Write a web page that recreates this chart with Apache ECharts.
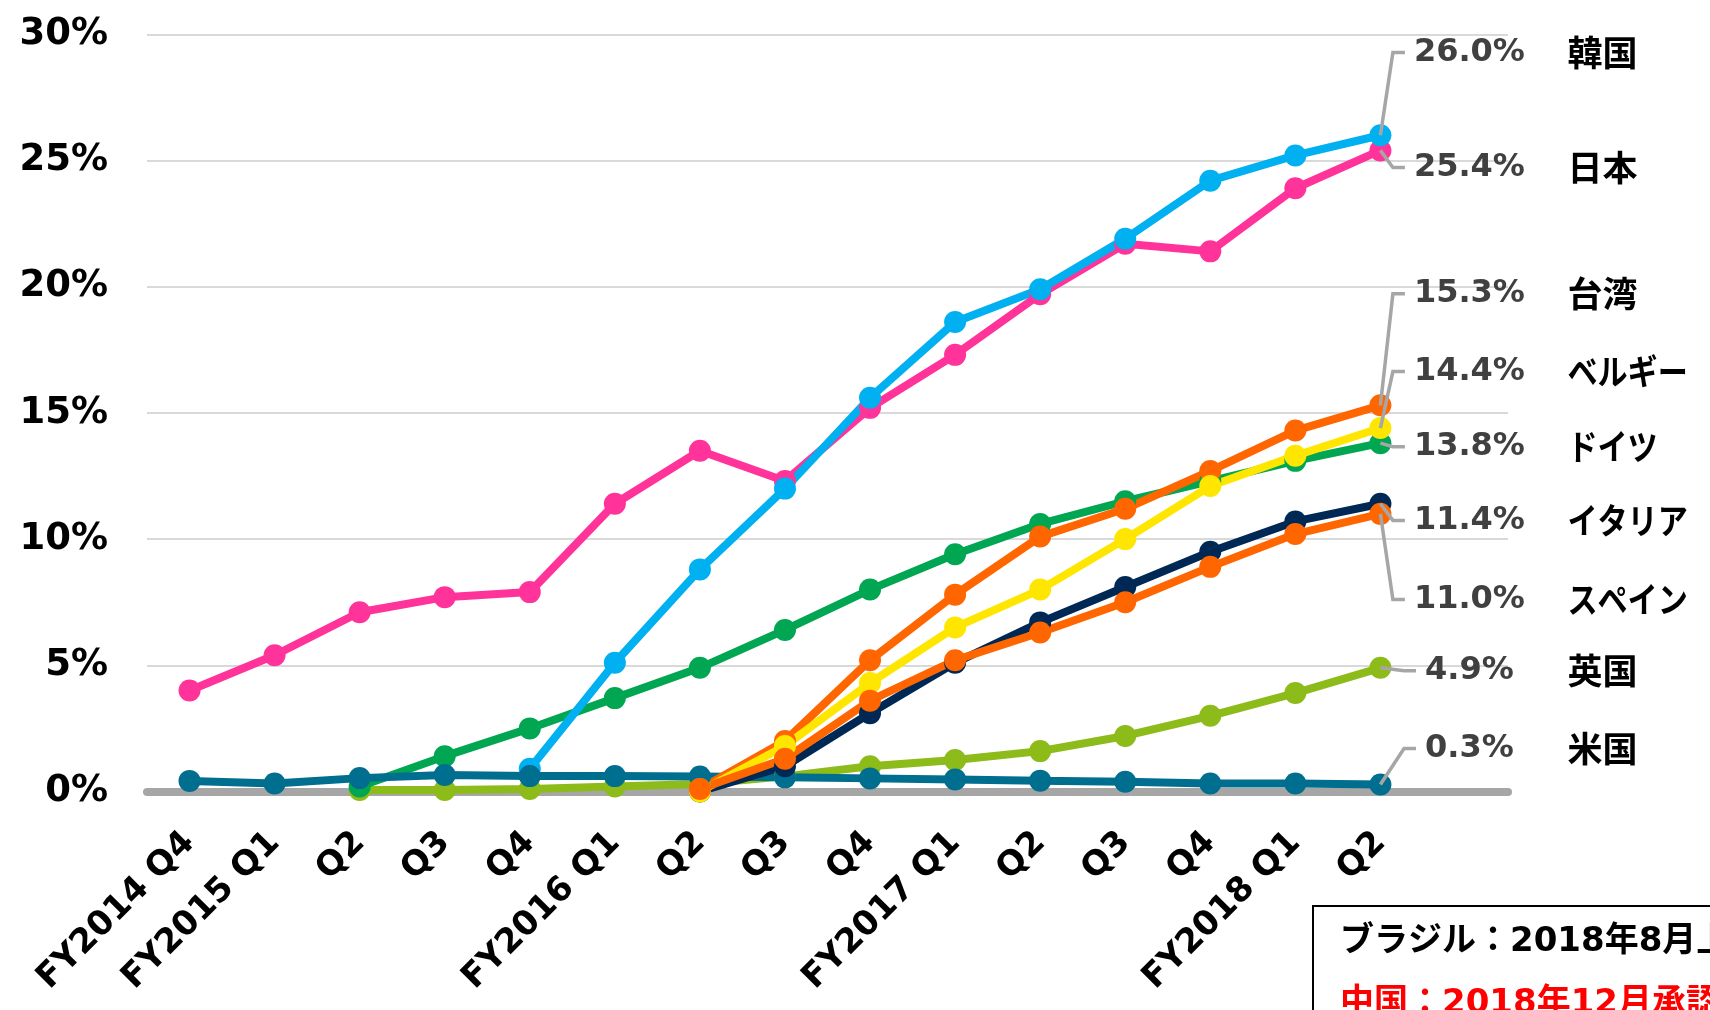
<!DOCTYPE html>
<html>
<head>
<meta charset="utf-8">
<script src="https://cdn.jsdelivr.net/npm/echarts@6/dist/echarts.min.js"></script>
<style>
html,body{margin:0;padding:0;background:#fff;}
#chart{width:1710px;height:1010px;}
</style>
</head>
<body>
<div id="chart"></div>
<script>
// ---- data ----
const categories = ['FY2014 Q4','FY2015 Q1','Q2','Q3','Q4','FY2016 Q1','Q2','Q3','Q4','FY2017 Q1','Q2','Q3','Q4','FY2018 Q1','Q2',''];
const yTicks = [0, 5, 10, 15, 20, 25, 30];

const japan   = [4.0, 5.4, 7.1, 7.7, 7.9, 11.4, 13.5, 12.3, 15.2, 17.3, 19.7, 21.7, 21.4, 23.9, 25.4];
const korea   = [null, null, null, null, 0.9, 5.1, 8.8, 12.0, 15.6, 18.6, 19.9, 21.9, 24.2, 25.2, 26.0];
const taiwan  = [null, null, null, null, null, null, 0.1, 2.0, 5.2, 7.8, 10.1, 11.2, 12.7, 14.3, 15.3];
const belgium = [null, null, null, null, null, null, 0.0, 1.8, 4.3, 6.5, 8.0, 10.0, 12.1, 13.3, 14.4];
const germany = [null, null, 0.2, 1.4, 2.5, 3.7, 4.9, 6.4, 8.0, 9.4, 10.6, 11.5, 12.3, 13.1, 13.8];
const italy   = [null, null, null, null, null, null, 0.0, 1.0, 3.1, 5.1, 6.7, 8.1, 9.5, 10.7, 11.4];
const spain   = [null, null, null, null, null, null, 0.1, 1.3, 3.6, 5.2, 6.3, 7.5, 8.9, 10.2, 11.0];
const uk      = [null, null, 0.06, 0.06, 0.1, 0.2, 0.3, 0.6, 1.0, 1.25, 1.6, 2.2, 3.0, 3.9, 4.9];
const us      = [0.42, 0.32, 0.53, 0.65, 0.61, 0.61, 0.59, 0.56, 0.52, 0.48, 0.43, 0.39, 0.32, 0.32, 0.28];

const countryNames = ['韓国','日本','台湾','ベルギー','ドイツ','イタリア','スペイン','英国','米国'];
const countrySeries = [korea, japan, taiwan, belgium, germany, italy, spain, uk, us];

// ---- layout / style (not data) ----
const colors = {
  '韓国':'#00b0f0','日本':'#ff3399','台湾':'#ff6600','ベルギー':'#ffe600','ドイツ':'#00a651',
  'イタリア':'#002855','スペイン':'#ff6600','英国':'#8cbb1a','米国':'#006e8f'
};
// label rows, in axis units (percent) so they go through the y scale
const labelSlotY = [29.28, 24.72, 19.72, 16.64, 13.66, 10.74, 7.61, 4.78, 1.70];
const drawOrder = ['英国','ドイツ','日本','韓国','米国','台湾','イタリア','ベルギー','スペイン'];

const lastIdx = 14;
const measureCtx = document.createElement('canvas').getContext('2d');
const valueFont = 'bold 32px "DejaVu Sans"';
measureCtx.font = valueFont;
const isKana = s => /^[\u30A0-\u30FF]+$/.test(s);

const lineSeries = drawOrder.map(name => {
  const i = countryNames.indexOf(name);
  return {
    name: name,
    type: 'line',
    data: countrySeries[i],
    symbol: 'circle',
    symbolSize: 22,
    lineStyle: {width: 8, color: colors[name]},
    itemStyle: {color: colors[name]},
    z: 2
  };
});

const labelData = countryNames.map((n, i) => {
  const arr = countrySeries[i];
  return [lastIdx, arr[lastIdx], labelSlotY[i]];
});

const labelSeries = {
  type: 'custom',
  coordinateSystem: 'cartesian2d',
  encode: {x: 0, y: 1},
  clip: false,
  z: 10,
  silent: true,
  data: labelData,
  renderItem: function (params, api) {
    const i = params.dataIndex;
    const p = api.coord([api.value(0), api.value(1)]);
    const s = api.coord([api.value(0), api.value(2)]);
    const txt = api.value(1).toFixed(1) + '%';
    const cx = p[0] + 89;
    const w = measureCtx.measureText(txt).width;
    const endX = cx - w / 2 - 9;
    const elbowX = endX - 12;
    const name = countryNames[i];
    return {
      type: 'group',
      children: [
        {type: 'polyline', shape: {points: [p, [elbowX, s[1]], [endX, s[1]]]},
         style: {stroke: '#a6a6a6', lineWidth: 3.5, fill: null}},
        {type: 'text', x: cx, y: s[1],
         style: {text: txt, align: 'center', verticalAlign: 'middle', font: valueFont, fill: '#404040'}},
        {type: 'text', x: p[0] + 187, y: s[1], scaleX: isKana(name) ? 0.86 : 1,
         style: {text: name, align: 'left', verticalAlign: 'middle',
                 font: 'bold 35px "Noto Sans CJK JP"', fill: '#000'}}
      ]
    };
  }
};

const boxFont = 'bold 34px "DejaVu Sans", "Noto Sans CJK JP"';

const chart = echarts.init(document.getElementById('chart'), null, {renderer: 'canvas'});
chart.setOption({
  animation: false,
  backgroundColor: '#ffffff',
  grid: {left: 147, right: 202, top: 34.3, bottom: 218.5, outerBoundsMode: 'none', containLabel: false},
  xAxis: {
    type: 'category',
    data: categories,
    boundaryGap: true,
    axisLine: {show: true, lineStyle: {color: '#a6a6a6', width: 8}},
    axisTick: {show: false},
    axisLabel: {
      interval: 0, rotate: 45, margin: 46,
      fontFamily: 'DejaVu Sans', fontWeight: 'bold', fontSize: 34, color: '#000'
    },
    splitLine: {show: false}
  },
  yAxis: {
    type: 'value',
    min: yTicks[0], max: yTicks[yTicks.length - 1], interval: yTicks[1] - yTicks[0],
    axisLine: {show: false},
    axisTick: {show: false},
    axisLabel: {
      formatter: '{value}%', margin: 39,
      fontFamily: 'DejaVu Sans', fontWeight: 'bold', fontSize: 37, color: '#000'
    },
    splitLine: {show: true, lineStyle: {color: '#d9d9d9', width: 2}}
  },
  series: lineSeries.concat([labelSeries]),
  graphic: [
    {type: 'rect', shape: {x: 1313, y: 906, width: 600, height: 300},
     style: {fill: '#fff', stroke: '#000', lineWidth: 2}, z: 20},
    {type: 'text', x: 1340, y: 942, z: 21,
     style: {text: 'ブラジル：2018年8月上市', font: boxFont, fill: '#000', verticalAlign: 'middle'}},
    {type: 'text', x: 1340, y: 1004, z: 21,
     style: {text: '中国：2018年12月承認', font: boxFont, fill: '#ff0000', verticalAlign: 'middle'}}
  ]
});
</script>
</body>
</html>
